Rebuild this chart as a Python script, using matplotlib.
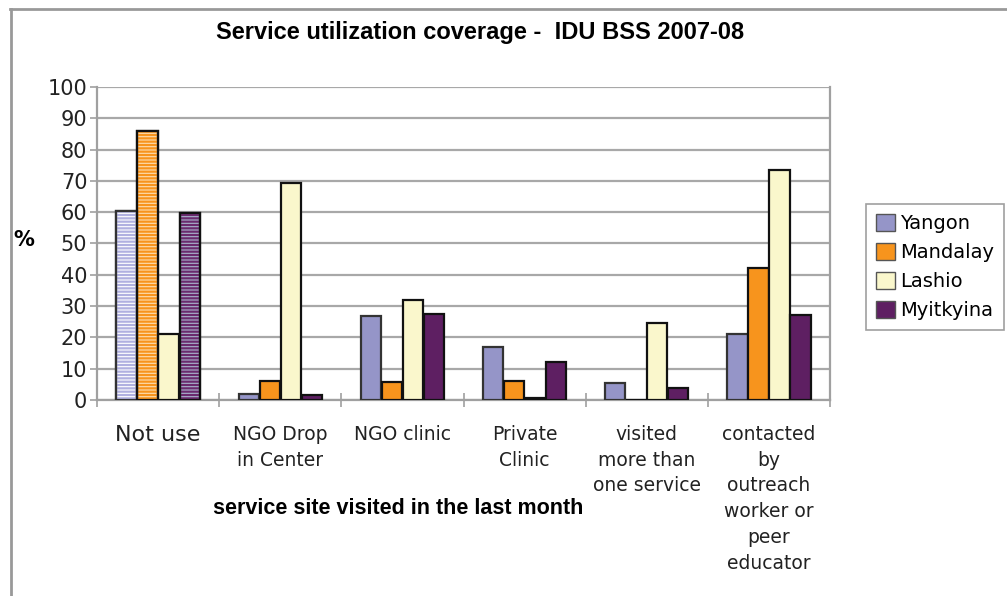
import matplotlib.pyplot as plt
from matplotlib.patches import Patch
from matplotlib.lines import Line2D
import numpy as np

categories = ['Not use', 'NGO Drop\nin Center', 'NGO clinic', 'Private\nClinic',
              'visited\nmore than\none service', 'contacted\nby\noutreach\nworker or\npeer\neducator']
series = ['Yangon', 'Mandalay', 'Lashio', 'Myitkyina']
yangon = [60.5, 2, 26.7, 16.8, 5.5, 21]
mandalay = [85.8, 6.2, 5.6, 6, 0, 42.3]
lashio = [21, 69.3, 32, 0.6, 24.7, 73.4]
myitkyina = [59.8, 1.5, 27.5, 12.2, 3.7, 27.2]
values = [yangon, mandalay, lashio, myitkyina]
yticks = list(range(0, 101, 10))

colors = ['#9595C8', '#F7941D', '#FAF7CC', '#5E1F62']
edges = ['#333333', '#111111', '#111111', '#111111']
# "Not use" bars are drawn with horizontal stripes
stripe_face = ['#FFFFFF', '#FDDDB0', None, '#A8B4CC']
stripe_color = ['#B0B0E0', '#F7941D', None, '#6A2A6E']

plt.rcParams['font.family'] = 'DejaVu Sans'
plt.rcParams['hatch.linewidth'] = 1.6

fig = plt.figure(figsize=(10.07, 5.96), dpi=100)
ax = fig.add_axes([0.0963, 0.329, 0.728, 0.525])

x = np.arange(len(categories))
w = 0.165
step = 0.172
for i, (name, vals) in enumerate(zip(series, values)):
    pos = x + (i - 1.5) * step
    faces = [colors[i]] * len(vals)
    if stripe_face[i]:
        faces[0] = stripe_face[i]
    ax.bar(pos, vals, w, color=faces, edgecolor=edges[i], linewidth=1.6, zorder=3)
    if stripe_face[i]:
        ax.bar(pos[0], vals[0], w, facecolor='none', edgecolor=stripe_color[i],
               hatch='-----', linewidth=0, zorder=4)
        ax.bar(pos[0], vals[0], w, facecolor='none', edgecolor=edges[i],
               linewidth=1.6, zorder=5)

ax.set_xlim(-0.5, len(categories) - 0.5)
ax.set_ylim(0, 100)
ax.set_yticks(yticks)
ax.set_yticklabels([str(t) for t in yticks], fontsize=15, color='#222222')
ax.grid(axis='y', color='#A8A8A8', linewidth=1.6, zorder=0)
for s in ax.spines.values():
    s.set_color('#A0A0A0')
    s.set_linewidth(1.6)
ax.spines['top'].set_visible(False)
ax.tick_params(axis='y', direction='out', length=5, color='#A0A0A0', width=1.2, pad=2)

ax.set_xticks(np.arange(len(categories) + 1) - 0.5)
ax.set_xticklabels([])
ax.tick_params(axis='x', direction='inout', length=10, color='#A0A0A0', width=1.2)
for xi, lab in enumerate(categories):
    fs = 16 if xi == 0 else 13.5
    ax.text(xi, -8, lab, ha='center', va='top', fontsize=fs, color='#222222',
            linespacing=1.45, transform=ax.transData, clip_on=False)

fig.text(480 / 1007, 1 - 33 / 596, 'Service utilization coverage -  IDU BSS 2007-08',
         ha='center', va='center', fontsize=17, fontweight='bold', family='Liberation Sans')
fig.text(398 / 1007, 1 - 508 / 596, 'service site visited in the last month',
         ha='center', va='center', fontsize=15.5, fontweight='bold', family='Liberation Sans')
fig.text(24 / 1007, 1 - 240 / 596, '%', ha='center', va='center', fontsize=15, fontweight='bold')

handles = [Patch(facecolor=c, edgecolor='#555555', linewidth=1) for c in colors]
leg = fig.legend(handles, series, loc='upper left', bbox_to_anchor=(866 / 1007, 1 - 204 / 596),
                 fontsize=14, frameon=True, fancybox=False, handlelength=1.0, handleheight=1.0,
                 handletextpad=0.25, labelspacing=0.5, borderpad=0.5, borderaxespad=0)
leg.get_frame().set_edgecolor('#888888')
leg.get_frame().set_linewidth(1.2)

# outer chart border (top and left edges visible)
fig.add_artist(Line2D([10 / 1007, 1], [1 - 9 / 596, 1 - 9 / 596], color='#999999', linewidth=2))
fig.add_artist(Line2D([11 / 1007, 11 / 1007], [0, 1 - 9 / 596], color='#999999', linewidth=2))

fig.savefig('out.png', dpi=100)
